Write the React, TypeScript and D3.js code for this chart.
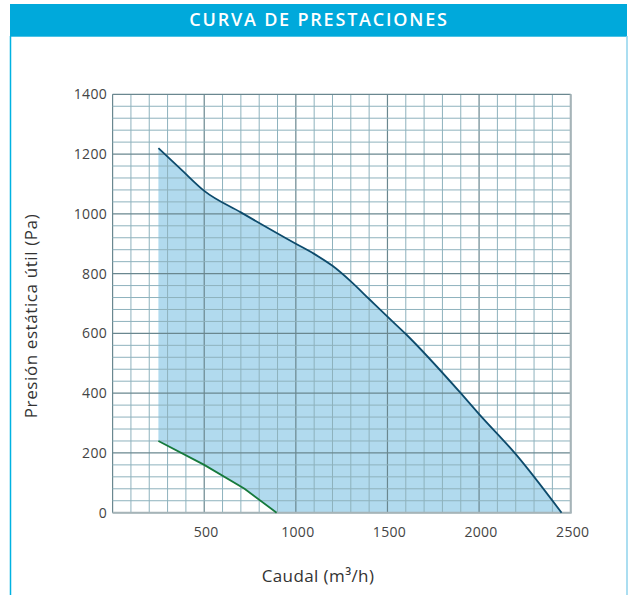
import React from "react";
import * as d3 from "d3";

const title = "CURVA DE PRESTACIONES";
const xLabel = "Caudal (m³/h)";
const yLabel = "Presión estática útil (Pa)";

const xTicks = [500, 1000, 1500, 2000, 2500];
const yTicks = [0, 200, 400, 600, 800, 1000, 1200, 1400];

// max curve (blue)
const maxFlow = [250, 375, 500, 700, 1000, 1100, 1200, 1300, 1400, 1500, 1600, 1900, 2000, 2200, 2450];
const maxPressure = [1220, 1148, 1077, 1005, 900, 866, 826, 774, 715, 656, 598, 400, 330, 196, 0];

// min curve (green)
const minFlow = [250, 500, 720, 895];
const minPressure = [240, 160, 80, 0];

const W = 628;
const H = 595;

export default function App() {
  const x = d3.scaleLinear().domain([0, 2500]).range([112.6, 570.7]);
  const y = d3.scaleLinear().domain([0, 1400]).range([512.7, 94.3]);

  const maxPts = maxFlow.map((f, i) => [f, maxPressure[i]] as [number, number]);
  const minPts = minFlow.map((f, i) => [f, minPressure[i]] as [number, number]);

  const maxLine = d3
    .line<[number, number]>()
    .x((d) => x(d[0]))
    .y((d) => y(d[1]))
    .curve(d3.curveMonotoneX);
  const minLine = d3
    .line<[number, number]>()
    .x((d) => x(d[0]))
    .y((d) => y(d[1]));

  const maxPath = maxLine(maxPts) || "";
  const minPath = minLine(minPts) || "";
  const bottomBack = [...minPts].reverse();
  const areaPath =
    maxPath +
    bottomBack.map((d) => `L${x(d[0])},${y(d[1])}`).join("") +
    "Z";

  const vGrid = d3.range(0, 2501, 100);
  const hGrid = d3.range(0, 1401, 40);

  const font = "'Open Sans', sans-serif";

  return (
    <svg
      width={W}
      height={H}
      style={{ position: "absolute", left: 0, top: 0 }}
      fontFamily={font}
    >
      <rect x={0} y={0} width={W} height={H} fill="#fff" />
      {/* frame */}
      <rect x={10} y={4} width={617} height={32.7} fill="#00a9db" />
      <line x1={10.5} x2={10.5} y1={36} y2={H} stroke="#00b2e2" strokeWidth={1.5} />
      <line x1={627} x2={627} y1={36} y2={H} stroke="#8fd3ec" strokeWidth={1.5} />
      <text
        x={319}
        y={26}
        textAnchor="middle"
        fill="#fff"
        fontSize={18}
        fontWeight={600}
        letterSpacing={1.8}
      >
        {title}
      </text>

      {/* fill */}
      <path d={areaPath} fill="#b1daee" />

      {/* grid */}
      {vGrid.map((v) => (
        <line
          key={"v" + v}
          x1={x(v)}
          x2={x(v)}
          y1={y(0)}
          y2={y(1400)}
          stroke={v % 500 === 0 ? "#6a878f" : "#8eb2bd"}
          strokeWidth={v % 500 === 0 ? 1.2 : 1}
        />
      ))}
      {hGrid.map((v) => (
        <line
          key={"h" + v}
          x1={x(0)}
          x2={x(2500)}
          y1={y(v)}
          y2={y(v)}
          stroke={v % 200 === 0 ? "#6a878f" : "#8eb2bd"}
          strokeWidth={v % 200 === 0 ? 1.2 : 1}
        />
      ))}
      {/* bottom & right axis borders */}
      <line x1={x(0)} x2={x(2500) + 1} y1={y(0)} y2={y(0)} stroke="#a6b4b8" strokeWidth={2} />
      <line x1={x(2500)} x2={x(2500)} y1={y(1400)} y2={y(0)} stroke="#a6b4b8" strokeWidth={2} />

      {/* curves */}
      <path d={maxPath} fill="none" stroke="#0d4b6c" strokeWidth={1.8} />
      <path d={minPath} fill="none" stroke="#167a3c" strokeWidth={1.8} />

      {/* tick labels */}
      {yTicks.map((t) => (
        <text
          key={"yt" + t}
          x={107}
          y={y(t)}
          dy="0.35em"
          textAnchor="end"
          fontSize={14}
          fill="#444"
          letterSpacing={0.3}
        >
          {t}
        </text>
      ))}
      {xTicks.map((t) => (
        <text
          key={"xt" + t}
          x={x(t) + 2}
          y={532}
          dy="0.35em"
          textAnchor="middle"
          fontSize={14}
          fill="#444"
          letterSpacing={0.3}
        >
          {t}
        </text>
      ))}

      {/* axis titles */}
      <text
        x={318}
        y={576}
        dy="0.35em"
        textAnchor="middle"
        fontSize={17}
        fill="#333"
        letterSpacing={0.4}
      >
        {xLabel}
      </text>
      <text
        transform={`translate(31,316) rotate(-90)`}
        dy="0.35em"
        textAnchor="middle"
        fontSize={17}
        fill="#333"
        letterSpacing={0.6}
      >
        {yLabel}
      </text>
    </svg>
  );
}
